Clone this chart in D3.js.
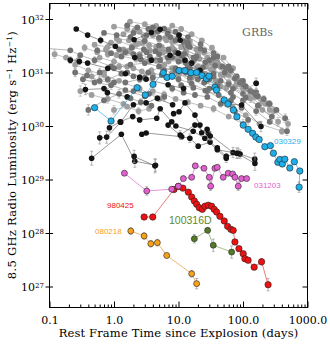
<!DOCTYPE html>
<html><head><meta charset="utf-8">
<script src="https://cdn.jsdelivr.net/npm/d3@7"></script>
<style>body{margin:0;background:#fff}svg{display:block}</style>
</head><body>
<svg id="c" width="330" height="354"></svg>
<script>
// ---------- tick labels ----------
const xTickValues = [0.1, 1, 10, 100, 1000];
const xTickLabels = ["0.1", "1.0", "10.0", "100.0", "1000.0"];
const yTickValues = [1e27, 1e28, 1e29, 1e30, 1e31, 1e32];
const yTickExponents = ["27", "28", "29", "30", "31", "32"];

// ---------- data: [time (days), L (erg/s/Hz), fractional error] ----------
const grbLightGray = [
  [[0.25,1.4e31,0.2],[0.4,1.1e31,0],[0.7,9e30,0.2],[1.2,7e30,0],[2.5,5e30,0.15],[5,3.2e30,0]],
  [[0.5,3.3e31,0],[0.8,3.0e31,0.15],[1.4,2.7e31,0],[2.5,2.2e31,0],[4.5,1.7e31,0.15],[8,1.2e31,0],[15,7e30,0.15]],
  [[1.0,7.2e31,0],[1.6,6.5e31,0.1],[2.5,5.8e31,0],[4,5e31,0],[6.5,4.0e31,0.1],[11,3.0e31,0],[20,2.0e31,0.1],[35,1.2e31,0],[60,6.5e30,0.15]],
  [[1.77,8.9e31,0],[3,8.0e31,0],[4.5,7.4e31,0.1],[7,6.2e31,0],[10,5.0e31,0],[15,3.8e31,0.1],[25,2.4e31,0],[45,1.3e31,0.15],[80,6e30,0],[130,3.3e30,0.2]],
  [[3,4.5e31,0],[5,4.2e31,0],[8,3.7e31,0.1],[12,3.1e31,0],[20,2.4e31,0],[35,1.6e31,0.1],[60,9e30,0],[100,5e30,0.15],[180,2.5e30,0.2]],
  [[5,2.8e31,0],[8,2.9e31,0],[13,2.6e31,0.1],[20,2.1e31,0],[32,1.5e31,0],[55,9.5e30,0.15],[90,6e30,0],[150,3.5e30,0.15],[260,2.0e30,0.2]],
  [[7,1.6e31,0],[11,1.7e31,0.1],[17,1.6e31,0],[27,1.3e31,0],[45,9e30,0.15],[75,5.5e30,0],[120,3.5e30,0.15],[200,2.0e30,0],[350,1.2e30,0.2]],
  [[0.8,2.2e31,0.15],[1.3,2.0e31,0],[2.2,1.8e31,0.15],[3.5,1.6e31,0],[6,1.4e31,0]],
  [[2.2,3.3e31,0],[3.5,3.2e31,0.1],[5.5,3.0e31,0],[8.5,2.7e31,0],[13,2.3e31,0.1],[21,1.8e31,0]],
  [[20,1.3e31,0],[32,1.15e31,0],[50,9e30,0.1],[80,6.5e30,0],[130,4.5e30,0.15],[200,3.0e30,0],[300,1.9e30,0.2],[500,1.1e30,0.2]],
  [[1.1,4.3e31,0],[1.7,4.0e31,0],[2.8,3.6e31,0.1],[4.5,3.0e31,0],[7,2.5e31,0]],
  [[0.3,4.5e30,0.25],[0.45,3.8e30,0],[0.8,3.2e30,0.2],[1.4,2.6e30,0]],
  [[0.45,8.5e30,0.2],[0.7,1.0e31,0],[1.2,1.3e31,0.15],[2,1.2e31,0],[4,9e30,0]],
  [[10,9e30,0.15],[16,8e30,0],[28,7e30,0],[45,5.5e30,0.2],[115,4.9e30,0],[160,6.3e30,0]],
  [[40,1.6e31,0],[60,1.05e31,0.1],[90,7e30,0],[140,4.2e30,0.15],[220,2.6e30,0]],
  [[0.6,1.9e31,0],[1.0,1.6e31,0.15],[1.6,1.3e31,0],[2.7,1.05e31,0]],
  [[70,2.2e30,0.15],[110,1.6e30,0],[180,1.1e30,0],[400,8e29,0.15]],
  [[0.9,3.6e31,0.1],[1.2,3.9e31,0],[1.9,3.1e31,0.1],[2.4,3.5e31,0],[3.6,2.6e31,0],[5.8,2.4e31,0.1],[9.5,1.9e31,0],[14,1.4e31,0.1],[26,9.5e30,0]],
  [[1.4,5.2e31,0],[2.1,6.2e31,0.1],[2.9,4.8e31,0],[4.2,5.5e31,0],[6.2,4.4e31,0.1],[8.8,4.0e31,0],[13,3.3e31,0],[19,2.7e31,0.1],[28,1.9e31,0],[42,1.4e31,0.1]],
  [[0.35,2.9e31,0.15],[0.55,2.4e31,0],[0.75,2.7e31,0.1],[1.1,2.1e31,0],[1.7,2.5e31,0]],
  [[3.8,1.1e31,0.1],[5.5,1.25e31,0],[7.8,9.5e30,0.15],[11,1.05e31,0],[17,8.5e30,0],[24,9.5e30,0.1],[38,7.0e30,0],[55,5.2e30,0.15]],
  [[8,7.5e31,0],[11,6.5e31,0.1],[16,5.2e31,0],[23,4.0e31,0],[33,2.9e31,0.1],[50,1.9e31,0],[70,1.2e31,0]],
  [[0.12,2.2e31,0.2],[0.18,1.9e31,0],[0.28,1.7e31,0.15]],
  [[1.0,2.0e30,0.2],[1.6,2.3e30,0],[2.4,1.9e30,0.15],[3.5,2.1e30,0]],
  [[4,4.5e30,0],[6,3.9e30,0.15],[9,3.2e30,0],[14,2.8e30,0.1],[22,2.4e30,0],[35,2.1e30,0.15],[60,1.5e30,0],[100,1.1e30,0.2]]
];
const grbMidGray = [
  [[0.05,3.0e31,0],[0.21,2.6e31,0],[0.3,2.1e31,0],[0.5,1.7e31,0.15],[0.9,1.3e31,0],[1.6,1.0e31,0],[3,8e30,0.15]],
  [[0.33,7.5e30,0.2],[0.5,6.5e30,0],[0.9,5.8e30,0.2],[1.5,4.7e30,0],[3,3.6e30,0]],
  [[0.7,5.5e31,0],[1.1,5.0e31,0],[1.8,4.6e31,0.1],[3,3.9e31,0],[5,3.2e31,0],[9,2.4e31,0.1],[16,1.5e31,0],[30,8e30,0.15]],
  [[1.3,2.0e31,0],[2,2.2e31,0.1],[3.2,2.4e31,0],[5,2.2e31,0],[8,1.9e31,0.1],[13,1.5e31,0],[22,1.0e31,0],[40,6e30,0.15],[70,3.5e30,0]],
  [[0.6,1.0e31,0.2],[1,1.2e31,0],[1.8,1.4e31,0],[3,1.5e31,0.1],[5,1.3e31,0],[9,1.1e31,0],[15,8e30,0.15],[30,5e30,0]],
  [[4,7.0e31,0],[6,6.6e31,0],[9,5.8e31,0.1],[14,4.6e31,0],[22,3.4e31,0],[35,2.3e31,0.1],[60,1.3e31,0],[100,6.0e30,0.15],[160,3.8e30,0]],
  [[1.5,6.5e30,0],[2.5,7.5e30,0.15],[4,8e30,0],[6.5,8.2e30,0],[10,7.5e30,0.15],[16,6.2e30,0],[28,4.5e30,0],[50,3.0e30,0.2]],
  [[9,4.0e31,0],[14,3.6e31,0],[22,2.8e31,0.1],[35,1.9e31,0],[55,1.2e31,0],[90,6.5e30,0.15],[150,4.2e30,0],[250,2.6e30,0.15],[450,1.4e30,0.2]],
  [[12,2.2e31,0],[19,2.0e31,0.1],[30,1.7e31,0],[48,1.3e31,0],[80,8.5e30,0.1],[130,4.5e30,0],[210,3.2e30,0.15],[330,2.0e30,0]],
  [[0.4,2.0e30,0.25],[0.7,3.0e30,0],[1.2,4.0e30,0.2],[2,4.5e30,0],[3.5,4.0e30,0],[6,3.5e30,0.2]],
  [[15,3.0e31,0],[25,2.6e31,0],[40,2.0e31,0.1],[65,1.1e31,0],[100,7e30,0.1],[160,4.3e30,0],[260,2.6e30,0.15]],
  [[25,6.5e30,0],[40,5.5e30,0.15],[65,4.2e30,0],[100,3.0e30,0],[160,1.9e30,0.2],[260,1.2e30,0],[480,8e29,0.2]],
  [[6,1.1e31,0],[9,1.2e31,0],[14,1.25e31,0.1],[22,1.1e31,0],[35,8.5e30,0],[60,6e30,0.15],[100,4e30,0]],
  [[2,5.5e31,0],[3.2,5.0e31,0],[5,4.5e31,0.1],[7.5,4.6e31,0],[12,3.8e31,0]],
  [[0.55,2.6e31,0.15],[0.9,2.3e31,0],[1.5,2.4e31,0],[2.5,2.0e31,0.1]],
  [[1.8,3.3e30,0],[2.6,2.8e30,0.15],[3.8,2.4e30,0]],
  [[1.6,7.6e31,0],[2.3,7.0e31,0],[3.4,6.5e31,0.1],[4.8,5.9e31,0],[6.8,5.3e31,0],[10,4.4e31,0.1],[14,3.2e31,0]],
  [[0.8,7.4e30,0.15],[1.3,9.5e30,0],[2,8.5e30,0.1],[3.4,1.0e31,0],[5.5,9e30,0],[8,8.5e30,0.1],[13,1.0e31,0],[20,7.5e30,0]],
  [[2.6,1.75e31,0],[3.6,2.0e31,0.1],[5.2,1.7e31,0],[6.8,1.9e31,0],[10,1.6e31,0.1],[15,1.2e31,0],[24,1.25e31,0],[35,9.5e30,0.1]],
  [[18,1.8e31,0],[26,1.55e31,0.1],[37,1.35e31,0],[52,1.0e31,0],[75,7.8e30,0.1],[110,5.5e30,0],[170,3.6e30,0.15]],
  [[0.25,1.0e31,0.2],[0.38,8.8e30,0],[0.6,7.0e30,0.15],[1.0,6.5e30,0]],
  [[1.2,2.7e31,0],[1.9,2.9e31,0],[2.9,2.7e31,0.1],[4.4,2.5e31,0],[7,2.7e31,0],[11,2.1e31,0.1],[17,1.9e31,0]],
  [[30,7.5e30,0],[45,7.0e30,0.1],[70,5.0e30,0],[110,3.4e30,0.15],[170,2.4e30,0],[280,1.5e30,0.2]],
  [[8,5e30,0.15],[12,4.2e30,0],[18,3.8e30,0.1],[28,3.5e30,0],[45,2.6e30,0.15],[75,1.9e30,0],[120,1.3e30,0.2]],
  [[11,5.8e30,0],[17,5.2e30,0.1],[26,4.6e30,0],[42,3.8e30,0.1],[65,3.0e30,0],[95,2.2e30,0.15]]
];
const grbBlack = [
  [[0.26,6.5e31,0],[0.39,5.0e31,0],[0.62,4.0e31,0.15],[1.05,3.1e31,0]],
  [[0.21,1.7e31,0.15],[0.29,1.6e31,0.12],[0.39,1.5e31,0],[0.8,1.2e31,0],[1.5,9.5e30,0]],
  [[0.36,4.8e30,0.25],[0.70,5.0e30,0],[0.79,4.2e30,0.2],[1.6,3.5e30,0]],
  [[0.45,2.5e29,0.35],[1.3,7.0e29,0],[2.1,2.2e29,0.3],[4.4,1.85e29,0.3]],
  [[0.60,6.0e29,0.3],[0.77,6.2e29,0.3],[1.27,1.18e30,0],[2.0,2.5e30,0],[3.15,2.7e30,0],[4.7,3.3e30,0],[8.1,2.5e30,0]],
  [[0.85,9.3e29,0.2],[1.25,1.2e30,0],[1.95,1.5e30,0],[2.5,1.3e30,0],[4.6,1.4e30,0],[5.2,2.1e30,0],[7.85,1.2e30,0],[9.1,1.0e30,0],[16.9,8.0e29,0],[25.6,5.9e29,0],[55,2.5e29,0.2]],
  [[2.7,7.0e29,0],[3.15,7.4e29,0],[11.2,6.3e29,0],[15,5.9e29,0.2],[20.2,4.2e29,0],[30.8,5.0e29,0],[39.9,3.9e29,0],[55,2.7e29,0],[84,3.1e29,0.25],[152,2.4e29,0.3]],
  [[2.05,2.7e29,0.3],[4.3,1.8e29,0.35]],
  [[8.4,1.7e30,0],[10.2,1.85e30,0],[12.6,2.7e30,0],[18,1.6e30,0],[21.5,1.04e30,0],[22.9,7.5e29,0],[27.8,8.7e29,0],[29,7.3e29,0],[70,3.2e29,0.25],[90,3.0e29,0.2]],
  [[6.9,1.04e30,0],[10.6,6.8e29,0.2],[18,1.04e30,0],[31,6.5e29,0.2]],
  [[2.05,4.1e31,0],[3.8,5.6e31,0],[5.2,6.4e31,0],[10.2,5.0e31,0],[10.6,4.0e31,0],[16,1.5e31,0]],
  [[2.1,1.9e31,0],[3.8,1.7e31,0],[7.4,2.1e31,0],[9.9,2.3e31,0],[12.6,1.7e31,0],[21.5,1.1e31,0]],
  [[2.5,8.1e30,0],[3.15,7.5e30,0],[6.9,5.9e30,0],[12,5e30,0]],
  [[60,2.6e30,0],[95,2.47e30,0.15],[190,9.8e29,0.25]],
  [[160,6.3e30,0.25]],
  [[40,3.6e29,0],[80,3.1e29,0.25],[153,2.0e29,0.35]]
];
const grb030329 = [[0.50,2.2e30,0],[0.90,1.24e30,0],[2.28,5.2e30,0],[3.06,3.8e30,0],[4.03,6.0e30,0],[5.82,9.9e30,0],
  [6.64,8.1e30,0],[8.0,8.5e30,0],[10.2,1.09e31,0],[12.6,1.08e31,0],[15.6,9.9e30,0],[19.0,1.0e31,0],[23.1,8.8e30,0],
  [27.1,7.7e30,0],[29.7,8.6e30,0],[36.7,5.3e30,0],[38.7,4.7e30,0],[51.2,3.06e30,0],[58.4,2.58e30,0],[71.0,1.99e30,0],
  [80.5,1.49e30,0],[100.7,1.04e30,0],[120,8.7e29,0],[141,7.3e29,0],[158,6.2e29,0],[178,5.6e29,0],[218,4.1e29,0],
  [266,4.3e29,0],[296,3.1e29,0],[347,2.1e29,0],[373,2.37e29,0],[407,1.95e29,0],[445,2.4e29,0],[532,1.64e29,0],
  [625,2.15e29,0],[760,1.44e29,0],[741,7.2e28,0.25]];
const grb031203 = [[1.45,1.31e29,0],[3.22,6.1e28,0.2],[7.85,6.6e28,0],[9.94,7.5e28,0],[11.9,1.04e29,0],[16.0,1.10e29,0],
  [18.2,1.8e29,0],[24.8,1.62e29,0],[30.0,1.10e29,0],[31.5,7.5e28,0.2],[36.7,1.62e29,0],[39.9,1.69e29,0],[49.3,1.10e29,0],
  [59,1.31e29,0],[69,1.27e29,0],[75,1.10e29,0],[84.4,7.5e28,0.2],[95,1.04e29,0],[114,1.04e29,0]];
const sn980425 = [[2.93,1.99e28,0],[3.99,1.99e28,0],[8.5,6.5e28,0],[9.94,7.4e28,0],[11.7,6.9e28,0],[14.2,5.8e28,0],
  [16.0,4.7e28,0],[17.6,3.97e28,0],[19.1,3.44e28,0],[21.0,2.97e28,0],[23.4,2.77e28,0],[25.7,3.16e28,0],[28.9,3.30e28,0],
  [32.6,3.16e28,0],[35.8,2.77e28,0],[39.0,2.47e28,0],[43.9,2.05e28,0],[51.2,1.68e28,0],[57.7,1.33e28,0],[65.0,1.17e28,0],
  [70.5,1.12e28,0],[75,6.8e27,0],[86.5,5.1e27,0.1],[100.7,4.1e27,0.1],[107,3.3e27,0.1],[120,3.1e27,0.1],[149,2.3e27,0.12],
  [194,2.9e27,0.15],[245,1.08e27,0.3]];
const sn100316D = [[17.6,7.8e27,0.2],[28.3,1.12e28,0.1],[34.6,5.9e27,0.3],[66.7,4.4e27,0.3]];
const sn080218 = [[1.82,1.09e28,0.15],[2.93,8.8e27,0.15],[3.72,6.3e27,0.15],[4.70,6.6e27,0.15],[6.57,3.8e27,0.1],
  [16.0,1.73e27,0.15],[19.1,1.13e27,0.25]];

// ---------- layout ----------
const L = 49.5, R = 307.5, T = 3.5, B = 307.5;
const x = d3.scaleLog().domain([0.1, 1000]).range([L, R]);
const y = d3.scaleLog().domain([1e27, 1e32]).range([286.5, 19]);
const svg = d3.select("#c");
const serif = "DejaVu Serif";

svg.append("defs").append("clipPath").attr("id", "clip")
  .append("rect").attr("x", L).attr("y", T).attr("width", R - L).attr("height", B - T);
const plot = svg.append("g").attr("clip-path", "url(#clip)");

function drawSeries(data, o) {
  const g = plot.append("g");
  data.filter(d => d[2] > 0).forEach(d => {
    const cx = x(d[0]), y1 = y(d[1] * (1 + d[2])), y2 = y(d[1] / (1 + d[2]));
    g.append("line").attr("x1", cx).attr("x2", cx).attr("y1", y1).attr("y2", y2)
      .attr("stroke", o.err).attr("stroke-width", 0.7);
    [y1, y2].forEach(v => g.append("line").attr("x1", cx - 1.5).attr("x2", cx + 1.5)
      .attr("y1", v).attr("y2", v).attr("stroke", o.err).attr("stroke-width", 0.7));
  });
  g.append("path").datum(data)
    .attr("d", d3.line().x(d => x(d[0])).y(d => y(d[1])))
    .attr("fill", "none").attr("stroke", o.line).attr("stroke-width", o.lw || 0.6);
  g.selectAll("circle").data(data).join("circle")
    .attr("cx", d => x(d[0])).attr("cy", d => y(d[1])).attr("r", o.r)
    .attr("fill", o.fill).attr("stroke", o.stroke || "none").attr("stroke-width", o.sw || 0);
}

grbLightGray.forEach(s => drawSeries(s, {fill: "#9e9e9e", line: "#9a9a9a", err: "#b4b4b4", r: 2.9}));
grbMidGray.forEach(s => drawSeries(s, {fill: "#727272", line: "#888888", err: "#aaaaaa", r: 2.9}));
grbBlack.forEach(s => drawSeries(s, {fill: "#141414", line: "#555", err: "#999", r: 2.8}));

drawSeries(sn080218, {fill: "#f7a21b", line: "#d8891a", err: "#999", r: 3, stroke: "#222", sw: 0.6});
drawSeries(sn100316D, {fill: "#557a27", line: "#6c9636", err: "#999", r: 3, stroke: "#222", sw: 0.6});
drawSeries(sn980425, {fill: "#ee1111", line: "#dd2222", err: "#999", r: 3.2, stroke: "#222", sw: 0.6});
drawSeries(grb031203, {fill: "#e25fcf", line: "#d050c0", err: "#999", r: 3, stroke: "#222", sw: 0.6});
drawSeries(grb030329, {fill: "#1eaee8", line: "#1aa0d8", err: "#999", r: 3.2, stroke: "#222", sw: 0.6});

// ---------- axes ----------
const minorX = [];
[0.1, 1, 10, 100].forEach(dec => { for (let k = 2; k <= 9; k++) minorX.push(dec * k); });

function styleAxis(g) { g.select(".domain").remove(); g.selectAll("line").attr("stroke", "#000"); }

svg.append("g").attr("transform", `translate(0,${B})`)
  .call(d3.axisBottom(x).tickValues(xTickValues).tickSizeInner(-6).tickSizeOuter(0).tickPadding(9)
    .tickFormat((d, i) => xTickLabels[i]))
  .call(styleAxis)
  .call(g => g.selectAll("text").attr("font-family", serif).attr("font-size", 11).attr("fill", "#000"));
svg.append("g").attr("transform", `translate(0,${B})`)
  .call(d3.axisBottom(x).tickValues(minorX).tickSizeInner(-3).tickSizeOuter(0).tickFormat(""))
  .call(styleAxis);
svg.append("g").attr("transform", `translate(0,${T})`)
  .call(d3.axisBottom(x).tickValues(xTickValues).tickSize(6).tickFormat(""))
  .call(styleAxis);
svg.append("g").attr("transform", `translate(0,${T})`)
  .call(d3.axisBottom(x).tickValues(minorX).tickSize(3).tickFormat(""))
  .call(styleAxis);

svg.append("g").attr("transform", `translate(${L + 3.5},0)`)
  .call(d3.axisLeft(y).tickValues(yTickValues).tickSizeInner(7.5).tickSizeOuter(0).tickPadding(1.5)
    .tickFormat(() => "10"))
  .call(styleAxis)
  .call(g => {
    g.selectAll("text").attr("font-family", serif).attr("font-size", 11).attr("fill", "#000").attr("dy", "0.4em")
      .each(function(d, i) {
        d3.select(this).append("tspan").attr("dy", "-0.55em").attr("font-size", 7).text(yTickExponents[i]);
      });
  });
svg.append("g").attr("transform", `translate(${R},0)`)
  .call(d3.axisLeft(y).tickValues(yTickValues).tickSize(5).tickFormat(""))
  .call(styleAxis);

svg.append("rect").attr("x", L).attr("y", T).attr("width", R - L).attr("height", B - T)
  .attr("fill", "none").attr("stroke", "#000").attr("stroke-width", 1);

// ---------- titles ----------
svg.append("text").attr("x", (L + R) / 2).attr("y", 337).attr("text-anchor", "middle")
  .attr("font-family", serif).attr("font-size", 11.5).attr("letter-spacing", 0.15)
  .text("Rest Frame Time since Explosion (days)");

const yt = svg.append("text").attr("transform", "translate(16,155) rotate(-90)").attr("text-anchor", "middle")
  .attr("font-family", serif).attr("font-size", 11.5).attr("letter-spacing", 0.3);
yt.append("tspan").text("8.5 GHz Radio Luminosity (erg s");
yt.append("tspan").attr("dy", -4.5).attr("font-size", 7.5).text("\u22121");
yt.append("tspan").attr("dy", 4.5).text(" Hz");
yt.append("tspan").attr("dy", -4.5).attr("font-size", 7.5).text("\u22121");
yt.append("tspan").attr("dy", 4.5).text(")");

// ---------- labels ----------
svg.append("text").attr("x", 257.5).attr("y", 36).attr("text-anchor", "middle")
  .attr("font-family", serif).attr("font-size", 11).attr("fill", "#666").text("GRBs");
const sans = "Liberation Sans";
[["030329", 274, 144, "#1eaee8", 8], ["031203", 254, 188, "#e25fcf", 8], ["980425", 107, 208, "#ee1111", 8],
 ["080218", 95, 233.5, "#f7a21b", 8], ["100316D", 169, 224, "#5e8a2a", 10.5]].forEach(([t, lx, ly, c, fs]) => {
  svg.append("text").attr("x", lx).attr("y", ly).attr("font-family", sans).attr("font-size", fs)
    .attr("fill", c).text(t);
});
</script>
</body></html>
